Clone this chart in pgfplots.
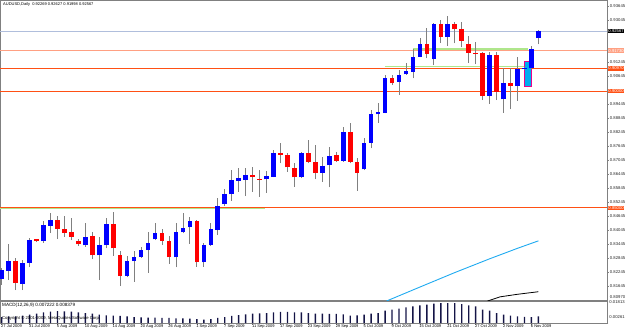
\documentclass[border=0pt]{standalone}
\usepackage{pgfplots}
\pgfplotsset{compat=1.18}
\usepackage{pgfplotstable}
\usepackage{fontspec}
\setmainfont{Liberation Sans}
\definecolor{bull}{RGB}{0,0,255}
\definecolor{bear}{RGB}{255,0,0}
\definecolor{wick}{RGB}{128,128,128}
\definecolor{framec}{RGB}{128,128,128}
\definecolor{curline}{RGB}{176,190,220}
\definecolor{lvl}{RGB}{255,80,20}
\definecolor{lvllight}{RGB}{255,160,130}
\definecolor{grn}{RGB}{175,230,140}
\definecolor{macdbar}{RGB}{20,20,70}
\definecolor{sky}{RGB}{30,170,240}
\newcommand{\mtf}{\fontsize{4.2}{5}\selectfont}
\newcommand{\mth}{\fontsize{4}{4.8}\selectfont}

\pgfplotstableread{
i O H L C
0 0.81932 0.82416 0.81688 0.82331
1 0.82301 0.83445 0.81902 0.82729
3 0.81731 0.82759 0.81473 0.82631
4 0.82631 0.83702 0.82459 0.83616
6 0.83573 0.84431 0.83488 0.84259
7 0.84229 0.84773 0.83916 0.84473
12 0.83389 0.84358 0.83329 0.83758
14 0.82961 0.83758 0.81902 0.83389
15 0.83402 0.84546 0.83261 0.84302
18 0.82086 0.82931 0.82018 0.82729
19 0.82716 0.83158 0.81829 0.82901
20 0.82901 0.83329 0.82845 0.83188
21 0.83188 0.83972 0.82215 0.83501
22 0.83646 0.84358 0.83616 0.83929
25 0.82875 0.84332 0.82445 0.83946
26 0.83946 0.84761 0.83904 0.84118
27 0.84161 0.84589 0.83445 0.84418
29 0.82661 0.83475 0.82472 0.83415
30 0.83402 0.84358 0.83359 0.84074
31 0.84045 0.85403 0.83845 0.85073
32 0.85159 0.85789 0.85073 0.85575
33 0.85575 0.86616 0.85301 0.86188
34 0.86158 0.86689 0.85686 0.86261
35 0.86188 0.86689 0.85502 0.86415
38 0.86218 0.86586 0.85643 0.86359
39 0.86329 0.87474 0.86303 0.87358
43 0.86303 0.87395 0.86261 0.87358
46 0.86501 0.87161 0.86115 0.86788
47 0.86818 0.87589 0.85875 0.87216
49 0.87015 0.88472 0.86972 0.88258
52 0.86646 0.87975 0.86616 0.87786
53 0.87786 0.89188 0.87546 0.89003
54 0.89003 0.89475 0.88643 0.89115
55 0.89072 0.90688 0.89046 0.90572
57 0.90401 0.90902 0.89831 0.90688
58 0.90718 0.91215 0.90688 0.90859
59 0.90829 0.91789 0.90545 0.91472
60 0.91472 0.92261 0.91445 0.92003
62 0.91361 0.92929 0.91116 0.92861
64 0.92329 0.93216 0.91931 0.92861
70 0.89788 0.91686 0.89445 0.91545
72 0.89646 0.90975 0.89072 0.90358
74 0.90216 0.91472 0.89586 0.90932
75 0.90945 0.91045 0.90895 0.90975
76 0.90975 0.91931 0.90932 0.91789
77 0.92269 0.92627 0.91998 0.92567
}\bull

\pgfplotstableread{
i O H L C
2 0.82729 0.82845 0.81473 0.81786
5 0.83646 0.83672 0.83531 0.83573
8 0.84486 0.84645 0.83659 0.84088
9 0.84088 0.84645 0.83758 0.83929
10 0.83946 0.84559 0.83616 0.83758
11 0.83586 0.83659 0.83359 0.83432
13 0.83788 0.83972 0.82789 0.82961
16 0.84302 0.84803 0.82931 0.83261
17 0.82986 0.83158 0.81645 0.82073
23 0.83929 0.84074 0.83402 0.83586
24 0.83573 0.83788 0.82588 0.82875
28 0.84443 0.84473 0.82472 0.82661
36 0.86389 0.86758 0.85686 0.86316
37 0.86236 0.86616 0.85472 0.86206
40 0.87358 0.87786 0.86903 0.87272
41 0.87259 0.87332 0.86543 0.86732
42 0.86689 0.86903 0.85901 0.86303
44 0.87358 0.87902 0.86903 0.86972
45 0.86972 0.87688 0.86218 0.86501
48 0.87259 0.87401 0.86972 0.87015
50 0.88258 0.88615 0.86903 0.86972
51 0.86972 0.87118 0.85729 0.86501
56 0.90572 0.90688 0.90259 0.90332
61 0.92003 0.92689 0.91403 0.91588
63 0.92861 0.93045 0.92072 0.92329
65 0.92861 0.92972 0.92046 0.92646
66 0.92646 0.92972 0.91875 0.92158
67 0.92016 0.92359 0.91215 0.91643
68 0.91645 0.92115 0.91159 0.91615
69 0.91643 0.91686 0.89616 0.89788
71 0.91545 0.91686 0.89616 0.89972
73 0.90358 0.90975 0.89218 0.90216
}\bear

\pgfplotstableread{
i M
0 0.00684
1 0.00731
2 0.00731
3 0.00778
4 0.00849
5 0.00919
6 0.01013
7 0.01060
8 0.01107
9 0.01084
10 0.01060
11 0.01013
12 0.00966
13 0.00919
14 0.00849
15 0.00802
16 0.00778
17 0.00755
18 0.00731
19 0.00684
20 0.00661
21 0.00637
22 0.00637
23 0.00614
24 0.00614
25 0.00590
26 0.00590
27 0.00567
28 0.00543
29 0.00496
30 0.00543
31 0.00614
32 0.00684
33 0.00755
34 0.00825
35 0.00872
36 0.00919
37 0.00943
38 0.00966
39 0.01013
40 0.01037
41 0.01037
42 0.01013
43 0.01013
44 0.00966
45 0.00919
46 0.00919
47 0.00896
48 0.00896
49 0.00872
50 0.00778
51 0.00802
52 0.00849
53 0.00919
54 0.00966
55 0.01131
56 0.01201
57 0.01271
58 0.01366
59 0.01436
60 0.01507
61 0.01554
62 0.01624
63 0.01671
64 0.01671
65 0.01671
66 0.01601
67 0.01507
68 0.01436
69 0.01201
70 0.01131
71 0.00966
72 0.00849
73 0.00778
74 0.00731
75 0.00690
76 0.00680
77 0.00722
}\macd

\begin{document}
\begin{tikzpicture}[x=1pt,y=1pt]
\useasboundingbox (0,0) rectangle (625,330);
\begin{axis}[
  at={(0pt,30pt)}, anchor=south west, scale only axis,
  width=607pt, height=300pt,
  xmin=-0.244, xmax=86.84, ymin=0.81045, ymax=0.93902,
  clip mode=individual,
  axis line style={framec, line width=0.6pt},
  xtick=\empty,
  scaled y ticks=false,
  ytick={0.81645,0.82245,0.82845,0.83445,0.84045,0.84645,0.85245,0.85845,0.86445,0.87045,0.87645,0.88245,0.88845,0.89445,0.90645,0.91245,0.93045,0.93645},
  ytick pos=right, yticklabel pos=right,
  tick align=outside, major tick length=2pt,
  tick style={framec, line width=0.5pt},
  yticklabel style={font=\mtf, text=black!85, inner sep=0.8pt,
    /pgf/number format/fixed, /pgf/number format/fixed zerofill,
    /pgf/number format/precision=5, /pgf/number format/assume math mode=true},
]
% horizontal levels
\addplot[curline, line width=0.6pt] coordinates {(-0.244,0.92567)(86.84,0.92567)};
\addplot[lvllight, line width=1.6pt] coordinates {(-0.244,0.91730)(86.84,0.91730)};
\addplot[lvl, line width=0.8pt] coordinates {(-0.244,0.90970)(86.84,0.90970)};
\addplot[lvl, line width=0.8pt] coordinates {(-0.244,0.90000)(86.84,0.90000)};
\addplot[lvl, line width=0.8pt] coordinates {(-0.244,0.85000)(86.84,0.85000)};
\addplot[grn, line width=1.4pt] coordinates {(59,0.91802)(75.5,0.91802)};
\addplot[grn, line width=1.4pt] coordinates {(55,0.91043)(75.5,0.91043)};
\addplot[grn, line width=1.4pt] coordinates {(-0.244,0.84966)(37.8,0.84966)};
% rectangle object
\addplot[fill=cyan, draw=magenta, line width=0.5pt] coordinates {(75,0.90216)(75.95,0.90216)(75.95,0.91258)(75,0.91258)} -- cycle;
% indicator lines in main window
\addplot[sky, line width=0.9pt] coordinates {(55.2,0.8100)(60,0.8160)(65,0.8222)(70,0.8281)(74,0.8326)(77,0.8358)};
\addplot[black, line width=0.8pt] coordinates {(69.7,0.8100)(71.5,0.8118)(74,0.8129)(77,0.8140)};
% wicks
\addplot[draw=none, mark=none, error bars/.cd, y dir=plus, y explicit, error mark=none,
  error bar style={draw=wick, line width=0.8pt}]
  table[x=i, y=L, y error expr=\thisrow{H}-\thisrow{L}] {\bull};
\addplot[draw=none, mark=none, error bars/.cd, y dir=plus, y explicit, error mark=none,
  error bar style={draw=wick, line width=0.8pt}]
  table[x=i, y=L, y error expr=\thisrow{H}-\thisrow{L}] {\bear};
% bodies
\addplot[draw=none, mark=none, error bars/.cd, y dir=plus, y explicit, error mark=none,
  error bar style={draw=bull, line width=4.6pt}]
  table[x=i, y=O, y error expr=\thisrow{C}-\thisrow{O}] {\bull};
\addplot[draw=none, mark=none, error bars/.cd, y dir=plus, y explicit, error mark=none,
  error bar style={draw=bear, line width=4.6pt}]
  table[x=i, y=C, y error expr=\thisrow{O}-\thisrow{C}] {\bear};
% price boxes
\node[anchor=west, fill=black, text=white, font=\mtf, inner sep=0.7pt, xshift=0.6pt] at (axis cs:86.84,0.92567) {0.92567};
\node[anchor=west, fill=lvllight, text=white, font=\mtf, inner sep=0.7pt, xshift=0.6pt] at (axis cs:86.84,0.91730) {0.91730};
\node[anchor=west, fill=lvl, text=white, font=\mtf, inner sep=0.7pt, xshift=0.6pt] at (axis cs:86.84,0.90970) {0.90970};
\node[anchor=west, fill=lvl, text=white, font=\mtf, inner sep=0.7pt, xshift=0.6pt] at (axis cs:86.84,0.90000) {0.90000};
\node[anchor=west, fill=lvl, text=white, font=\mtf, inner sep=0.7pt, xshift=0.6pt] at (axis cs:86.84,0.85000) {0.85000};
\node[anchor=south west, font=\mtf, text=black!85, inner sep=0.8pt, xshift=2pt] at (rel axis cs:1,0) {0.80970};
\node[anchor=north west, font=\mth, inner sep=0pt, xshift=3pt, yshift=-2.5pt] at (rel axis cs:0,1) {AUDUSD,Daily\ \ 0.92269 0.92627 0.91998 0.92567};
\end{axis}

\begin{axis}[
  at={(0pt,7pt)}, anchor=south west, scale only axis,
  width=607pt, height=22pt,
  xmin=-0.244, xmax=86.84, ymin=0.00261, ymax=0.01813,
  clip mode=individual,
  axis line style={framec, line width=0.6pt},
  ybar, bar width=1.4pt,
  xtick={0,4,...,76},
  xticklabels={27 Jul 2009,31 Jul 2009,5 Aug 2009,10 Aug 2009,14 Aug 2009,20 Aug 2009,26 Aug 2009,1 Sep 2009,7 Sep 2009,11 Sep 2009,17 Sep 2009,23 Sep 2009,29 Sep 2009,5 Oct 2009,9 Oct 2009,15 Oct 2009,21 Oct 2009,27 Oct 2009,2 Nov 2009,6 Nov 2009},
  xtick pos=bottom,
  xticklabel style={font=\mth, anchor=north west, inner sep=0.3pt, xshift=-1pt},
  scaled y ticks=false,
  ytick={0.01813}, extra y ticks={0.00261},
  ytick pos=right, yticklabel pos=right,
  tick align=outside, major tick length=1.5pt,
  tick style={framec, line width=0.5pt},
  yticklabel style={font=\mtf, text=black!85, inner sep=0.8pt, anchor=west, yshift=-1.5pt,
    /pgf/number format/fixed, /pgf/number format/fixed zerofill,
    /pgf/number format/precision=5, /pgf/number format/assume math mode=true},
  extra y tick style={yticklabel style={yshift=7pt}},
]
\addplot[fill=macdbar, draw=none] table[x=i, y=M] {\macd};
\node[anchor=north west, font=\fontsize{4.6}{5.4}\selectfont, inner sep=0pt, xshift=2pt, yshift=-2pt] at (rel axis cs:0,1) {MACD(12,26,9) 0.007222 0.008379};
\node[anchor=south west, font=\mtf, inner sep=0pt, xshift=2pt, yshift=2pt] at (rel axis cs:0,0) {Copyright © 2001-2009, MetaQuotes Software Corp.};
\end{axis}
\end{tikzpicture}
\end{document}
